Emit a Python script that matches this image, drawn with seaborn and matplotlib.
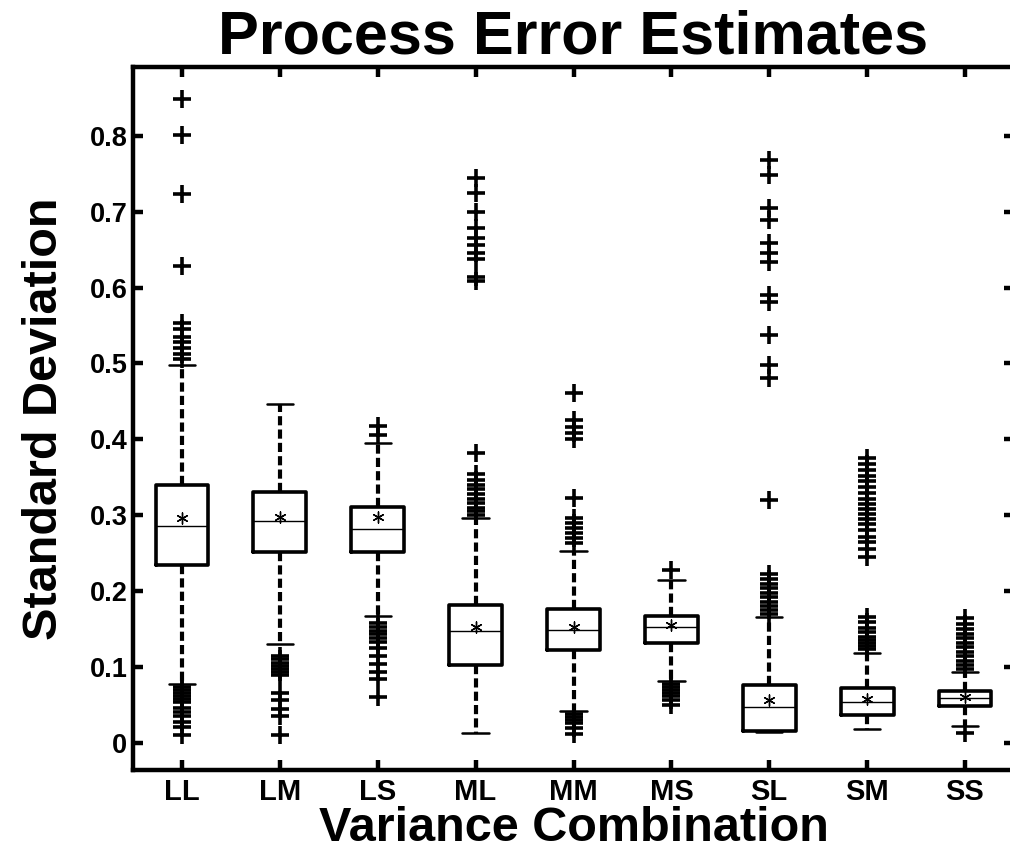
import numpy as np
import pandas as pd
import matplotlib
matplotlib.use("Agg")
import matplotlib.pyplot as plt
import seaborn as sns

# Variance combinations (x categories)
combos = ["LL", "LM", "LS", "ML", "MM", "MS", "SL", "SM", "SS"]

# Box summaries
whis_lo = [0.078, 0.130, 0.167, 0.013, 0.042, 0.081, 0.015, 0.019, 0.022]
q1 = [0.235, 0.251, 0.252, 0.103, 0.122, 0.132, 0.016, 0.037, 0.049]
median = [0.286, 0.293, 0.282, 0.147, 0.149, 0.153, 0.047, 0.054, 0.059]
q3 = [0.340, 0.331, 0.311, 0.182, 0.177, 0.167, 0.077, 0.072, 0.069]
whis_hi = [0.498, 0.447, 0.395, 0.297, 0.253, 0.215, 0.166, 0.119, 0.094]
means = [0.297, 0.298, 0.298, 0.153, 0.153, 0.155, 0.057, 0.058, 0.060]

# Outliers per combination
outliers = {
    "LL": [0.848, 0.801, 0.723, 0.628, 0.553, 0.545, 0.535, 0.528, 0.520,
           0.513, 0.506, 0.074, 0.070, 0.066, 0.062, 0.058, 0.054, 0.046,
           0.041, 0.035, 0.028, 0.021, 0.011],
    "LM": [0.114, 0.110, 0.106, 0.102, 0.098, 0.094, 0.090, 0.066, 0.056,
           0.045, 0.035, 0.010],
    "LS": [0.417, 0.406, 0.158, 0.153, 0.148, 0.143, 0.138, 0.133, 0.125,
           0.115, 0.104, 0.094, 0.084, 0.061],
    "ML": [0.744, 0.724, 0.700, 0.678, 0.665, 0.656, 0.646, 0.638, 0.614,
           0.608, 0.382, 0.355, 0.347, 0.340, 0.334, 0.328, 0.322, 0.316,
           0.310, 0.305, 0.300],
    "MM": [0.461, 0.425, 0.416, 0.409, 0.401, 0.323, 0.296, 0.290, 0.283,
           0.276, 0.270, 0.264, 0.038, 0.034, 0.030, 0.026, 0.020, 0.012],
    "MS": [0.228, 0.078, 0.074, 0.070, 0.066, 0.062, 0.056, 0.050],
    "SL": [0.768, 0.748, 0.705, 0.689, 0.659, 0.646, 0.634, 0.590, 0.581,
           0.538, 0.498, 0.481, 0.320, 0.222, 0.216, 0.210, 0.204, 0.198,
           0.192, 0.186, 0.180, 0.175, 0.170],
    "SM": [0.375, 0.368, 0.360, 0.352, 0.345, 0.337, 0.330, 0.322, 0.315,
           0.308, 0.302, 0.295, 0.288, 0.280, 0.272, 0.265, 0.255, 0.245,
           0.166, 0.160, 0.152, 0.146, 0.140, 0.136, 0.132, 0.128, 0.124],
    "SS": [0.165, 0.157, 0.150, 0.144, 0.138, 0.132, 0.126, 0.120, 0.114,
           0.108, 0.103, 0.098, 0.013],
}

y_ticks = [0, 0.1, 0.2, 0.3, 0.4, 0.5, 0.6, 0.7, 0.8]
y_tick_labels = ["0", "0.1", "0.2", "0.3", "0.4", "0.5", "0.6", "0.7", "0.8"]

# five values per box -> percentiles (0, 25, 50, 75, 100) give the box exactly
box_rows = []
for i, c in enumerate(combos):
    for v in (whis_lo[i], q1[i], median[i], q3[i], whis_hi[i]):
        box_rows.append({"combo": c, "sd": v})
box_df = pd.DataFrame(box_rows)

out_df = pd.DataFrame([{"combo": c, "sd": v} for c in combos for v in outliers[c]])
mean_df = pd.DataFrame({"combo": combos, "sd": means})

sns.set_style("ticks")
plt.rcParams["font.family"] = ["Liberation Sans", "DejaVu Sans"]
plt.rcParams["font.weight"] = "bold"
plt.rcParams["text.color"] = "black"
plt.rcParams["axes.labelcolor"] = "black"
plt.rcParams["axes.edgecolor"] = "black"
plt.rcParams["xtick.color"] = "black"
plt.rcParams["ytick.color"] = "black"

fig = plt.figure(figsize=(10.1, 8.6), dpi=100)
ax = fig.add_axes([133 / 1010, 90 / 860, 881 / 1010, 703 / 860])

sns.boxplot(
    data=box_df, x="combo", y="sd", order=combos, ax=ax,
    whis=(0, 100), fill=False, color="black", width=0.54, showfliers=False,
    boxprops=dict(linewidth=2.6),
    whiskerprops=dict(linewidth=3, linestyle=(0, (2.2, 1.0))),
    capprops=dict(linewidth=1.8),
    medianprops=dict(linewidth=1.0),
)

sns.stripplot(
    data=out_df, x="combo", y="sd", order=combos, ax=ax,
    jitter=False, color="black", marker="+", s=13, linewidth=2.6,
)

sns.stripplot(
    data=mean_df, x="combo", y="sd", order=combos, ax=ax,
    jitter=False, color="black", marker=(6, 2, 0), s=8, linewidth=1.0,
)

ax.set_xlim(-0.5, 8.5)
ax.set_ylim(-0.0356, 0.8906)
ax.set_yticks(y_ticks)
ax.set_yticklabels(y_tick_labels)

for side in ["left", "right", "top", "bottom"]:
    ax.spines[side].set_visible(True)
    ax.spines[side].set_linewidth(3.2)
    ax.spines[side].set_color("black")
ax.tick_params(axis="both", which="both", direction="in", top=True, right=True,
               length=7, width=3.2, color="black", labelcolor="black")
ax.tick_params(axis="y", labelsize=19.5, pad=4)
ax.tick_params(axis="x", labelsize=21, pad=6)
for lab in ax.get_xticklabels() + ax.get_yticklabels():
    lab.set_fontweight("bold")

ax.set_title("Process Error Estimates", fontsize=44, fontweight="bold", pad=10,
             color="black")
ax.set_xlabel("Variance Combination", fontsize=35, fontweight="bold", labelpad=0)
ax.set_ylabel("Standard Deviation", fontsize=35, fontweight="bold", labelpad=16)

fig.savefig("out.png", dpi=100, facecolor="white")
